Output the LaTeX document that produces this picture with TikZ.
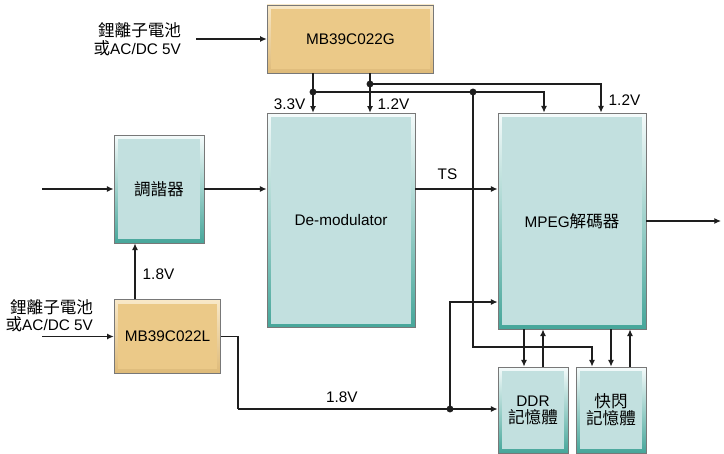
\documentclass[tikz,border=0pt]{standalone}
\usepackage{fontspec}
\setmainfont{Liberation Sans}
\newfontfamily\cjk[Scale=1.08]{Noto Sans CJK TC}
\usetikzlibrary{arrows.meta}

\definecolor{orangein}{RGB}{235,201,136}
\definecolor{orangelt}{RGB}{248,232,200}
\definecolor{orangedk}{RGB}{222,186,120}
\definecolor{tealin}{RGB}{194,224,223}
\definecolor{teallt}{RGB}{245,251,251}
\definecolor{tealdk}{RGB}{70,166,154}
\definecolor{boxline}{RGB}{120,120,120}
\definecolor{wire}{RGB}{30,30,30}

\tikzset{
  every picture/.style={line width=0.9pt},
  chipbox/.style={draw=boxline, line width=0.6pt, inner sep=1pt, shading angle=45},
  tealbox/.style={chipbox, top color=teallt, bottom color=tealdk,
    path picture={\fill[tealin] ([shift={(3pt,-3pt)}]path picture bounding box.north west) rectangle ([shift={(-3pt,3pt)}]path picture bounding box.south east);}},
  orangebox/.style={chipbox, top color=orangelt, bottom color=orangedk,
    path picture={\fill[orangein] ([shift={(3pt,-3pt)}]path picture bounding box.north west) rectangle ([shift={(-3pt,3pt)}]path picture bounding box.south east);}},
  arr/.style={draw=wire, -{Latex[length=5pt,width=4.5pt]}},
  wireline/.style={draw=wire},
  dot/.style={fill=wire}
}

\begin{document}
\begin{tikzpicture}[
            x=0.75pt,
            y=-0.75pt,
            every node/.style={text=black, font=\fontsize{11.5}{13}\selectfont}
        ]
            \useasboundingbox (0,0) rectangle (724,453);

            % blocks
            \node[orangebox, minimum width=125pt, minimum height=51pt] (regG) at (350.5,39) {MB39C022G};
            \node[orangebox, minimum width=80pt, minimum height=55pt] (regL) at (167.5,336.5) {MB39C022L};
            \node[tealbox, minimum width=67.5pt, minimum height=81pt] (tuner) at (159,189) {\cjk 調諧器};
            \node[tealbox, minimum width=111pt, minimum height=161pt] (demod) at (341,220.5) {De-modulator};
            \node[tealbox, minimum width=111pt, minimum height=162pt] (mpeg) at (572,221) {MPEG{\cjk 解碼器}};
            \node[tealbox, minimum width=52.5pt, minimum height=64.5pt, align=center, font=\fontsize{11.5}{12.8}\selectfont] (ddr) at (533,410) {DDR\\{\cjk 記憶體}};
            \node[tealbox, minimum width=52.5pt, minimum height=64.5pt, align=center, font=\fontsize{11.5}{12.8}\selectfont] (flash) at (611,410) {{\cjk 快閃}\\{\cjk 記憶體}};

            % supply inputs
            \node[align=right, anchor=east] (srcG) at (186,39) {{\cjk 鋰離子電池}\\{\cjk 或}AC/DC 5V};
            \node[align=right, anchor=east] (srcL) at (98,315.5) {{\cjk 鋰離子電池}\\{\cjk 或}AC/DC 5V};
            \coordinate (inG) at (196,39);
            \coordinate (inL) at (42,336.5);
            \coordinate (inT) at (42,189);
            \coordinate (out) at (721,0);
            \draw[arr] (inG) -- (regG.west);
            \draw[arr] (inL) -- (regL.west);
            \draw[arr] (inT) -- (tuner.west);

            % signal path
            \draw[arr] (tuner.east) -- (tuner.east -| demod.west);
            \draw[arr] (tuner.east -| demod.east) -- (tuner.east -| mpeg.west) node[pos=0.39, above=3pt] (ts) {TS};
            \draw[arr] (mpeg.east) -- (out |- mpeg.east);

            % rails from MB39C022G
            \coordinate (j33) at (313,92);
            \coordinate (j12) at (370,84);
            \coordinate (jm) at (473,92);
            \coordinate (m33) at (544,92);
            \coordinate (m12) at (601,84);
            \coordinate (fl) at (592,347);
            \draw[arr] (j33 |- regG.south) -- (j33 |- demod.north) node[pos=0.78, left=2pt] (v33) {3.3V};
            \draw[arr] (j12 |- regG.south) -- (j12 |- demod.north) node[pos=0.78, right=2pt] (v12a) {1.2V};
            \draw[arr] (j33) -- (m33) -- (m33 |- mpeg.north);
            \draw[arr] (j12) -- (m12) -- (m12 |- mpeg.north) node[pos=0.55, right=2pt] (v12b) {1.2V};
            \draw[arr] (jm) |- (fl) -- (fl |- flash.north);

            % rails from MB39C022L
            \coordinate (v18) at (135,0);
            \coordinate (b18) at (238,409);
            \coordinate (j18) at (450,409);
            \coordinate (p18) at (0,302);
            \draw[arr] (regL.north -| v18) -- (tuner.south -| v18) node[pos=0.45, right=2pt] (l18a) {1.8V};
            \draw[wireline] (regL.east) -| (b18);
            \draw[arr] (b18) -- (b18 -| ddr.west) node[pos=0.4, above=1pt] (l18b) {1.8V};
            \draw[arr] (j18) |- (mpeg.west |- p18);

            % memory buses
            \coordinate (c1) at (524,0);
            \coordinate (c2) at (543,0);
            \coordinate (c3) at (611,0);
            \coordinate (c4) at (630,0);
            \draw[arr] (c1 |- mpeg.south) -- (c1 |- ddr.north);
            \draw[arr] (c2 |- ddr.north) -- (c2 |- mpeg.south);
            \draw[arr] (c3 |- mpeg.south) -- (c3 |- flash.north);
            \draw[arr] (c4 |- flash.north) -- (c4 |- mpeg.south);

            % junctions
            \fill[dot] (j33) circle (2.6pt);
            \fill[dot] (j12) circle (2.6pt);
            \fill[dot] (jm) circle (2.6pt);
            \fill[dot] (j18) circle (2.6pt);
        \end{tikzpicture}
\end{document}
